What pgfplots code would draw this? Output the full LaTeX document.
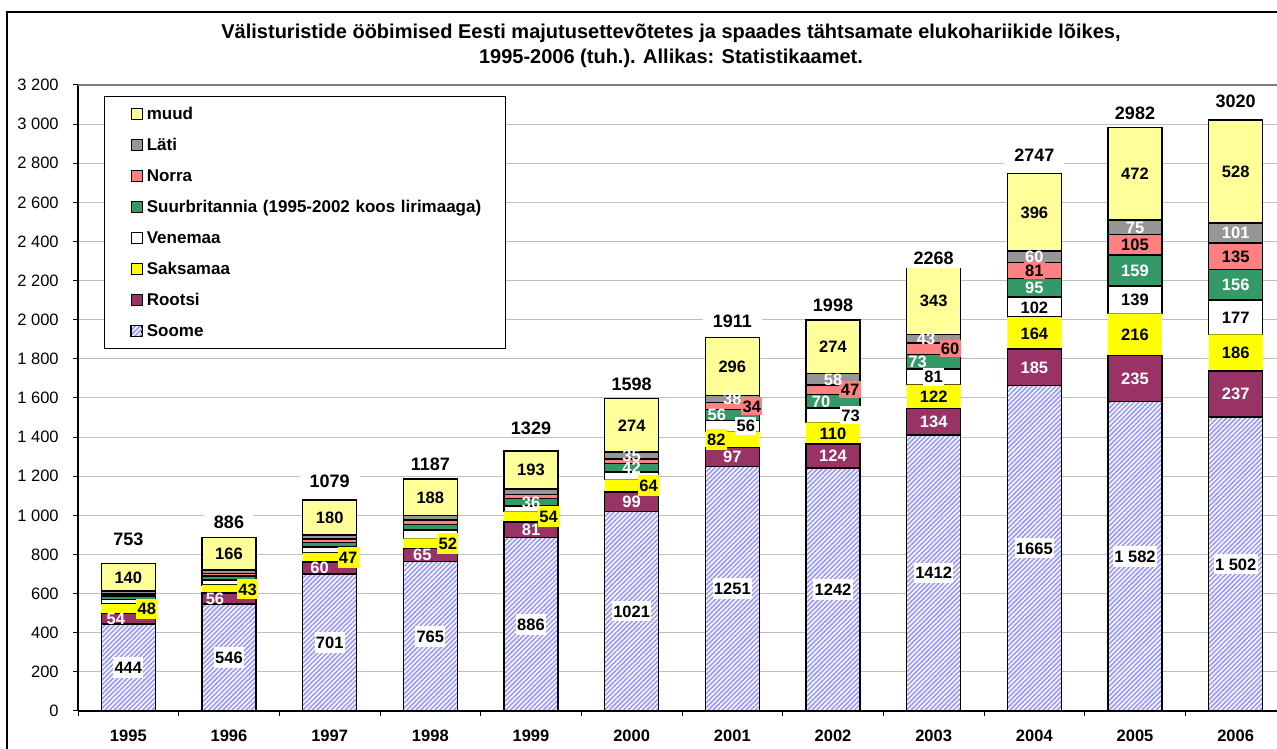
\documentclass[border=0pt]{standalone}
\usepackage{fontspec}
\setmainfont{Liberation Sans}
\usepackage{pgfplots}
\pgfplotsset{compat=1.18}
\usepackage{pgfplotstable}
\usetikzlibrary{patterns.meta}
\definecolor{soome}{HTML}{9999FF}
\definecolor{rootsi}{HTML}{993366}
\definecolor{saksa}{HTML}{FFFF00}
\definecolor{uk}{HTML}{339966}
\definecolor{norra}{HTML}{FF8080}
\definecolor{lati}{HTML}{969696}
\definecolor{muud}{HTML}{FFFF99}

\pgfplotstableread[col sep=comma]{
x,y,t,dx
0,222,444,0
1,273,546,0
2,350.5,701,0
3,382.5,765,0
4,443,886,0
5,510.5,1021,0
6,625.5,1251,0
7,621,1242,0
8,706,1412,0
9,832.5,1665,0
10,791,1 582,0
11,751,1 502,0
}\soomelab
\pgfplotstableread[col sep=comma]{
x,y,t,dx
0,471,54,-7.5
1,574,56,-8.4
2,731,60,-6
3,797.5,65,-4.8
4,926.5,81,0
5,1070.5,99,0
6,1299.5,97,0
7,1304,124,0
8,1479,134,0
9,1757.5,185,0
10,1699.5,235,0
11,1620.5,237,0
}\rootsilab
\pgfplotstableread[col sep=comma]{
x,y,t,dx
0,522,48,11.1
1,623.5,43,11.1
2,784.5,47,11.1
3,856,52,10.5
4,994,54,10.5
5,1152,64,10.2
6,1389,82,-9.6
7,1421,110,0
8,1607,122,0
9,1932,164,0
10,1925,216,0
11,1832,186,0
}\saksalab
\pgfplotstableread[col sep=comma]{
x,y,t,dx
6,1458,56,8.1
7,1512.5,73,10.5
8,1708.5,81,0
9,2065,102,0
10,2102.5,139,0
11,2013.5,177,0
}\venelab
\pgfplotstableread[col sep=comma]{
x,y,t,dx
4,1067,36,0
5,1243,42,0
6,1514,56,-9.3
7,1584,70,-7.2
8,1785.5,73,-9.6
9,2163.5,95,0
10,2251.5,159,0
11,2180,156,0
}\uklab
\pgfplotstableread[col sep=comma]{
x,y,t,dx
6,1559,34,11.7
7,1642.5,47,10.2
8,1852,60,9.9
9,2251.5,81,0
10,2383.5,105,0
11,2325.5,135,0
}\norralab
\pgfplotstableread[col sep=comma]{
x,y,t,dx
5,1306.5,35,0
6,1595,38,0
7,1695,58,0
8,1903.5,43,-4.5
9,2322,60,0
10,2473.5,75,0
11,2443.5,101,0
}\latilab
\pgfplotstableread[col sep=comma]{
x,y,t,dx
0,683,140,0
1,803,166,0
2,989,180,0
3,1093,188,0
4,1232.5,193,0
5,1461,274,0
6,1762,296,0
7,1861,274,0
8,2096.5,343,0
9,2550,396,0
10,2747,472,0
11,2758,528,0
}\muudlab
\pgfplotstableread[col sep=comma]{
x,y,t,dx
0,878,753,0
1,965,886,0
2,1176,1079,0
3,1261,1187,0
4,1449,1329,0
5,1672,1598,0
6,1995,1911,0
7,2074,1998,0
8,2316,2268,0
9,2843,2747,0
10,3055,2982,0
11,3116,3020,0
}\totlab

\pgfplotsset{
  sq legend/.style={legend image code/.code={%
    \path (0pt,0pt);
    \draw[##1, line width=0.7pt] (15.6pt,-3.3pt) rectangle (22.2pt,3.3pt);}},
  bar/.style={draw=black, line width=0.9pt, sq legend},
  lab/.style={only marks, mark=none,
    nodes near coords, point meta=explicit symbolic,
    visualization depends on={\thisrow{dx} \as \dx},
    nodes near coords style={anchor=center, font=\fontsize{9.9}{11}\selectfont\bfseries,
      inner xsep=0.8pt, inner ysep=2.6pt, text height=7.2pt, text depth=0pt, xshift={\dx*1pt}}},
  plain lab/.style={nodes near coords style={inner ysep=0.3pt}},
}

\begin{document}
\begin{tikzpicture}
\useasboundingbox (0,0) rectangle (766.2pt,449.4pt);
\clip (0,0) rectangle (766.2pt,449.4pt);
\begin{axis}[
  at={(46.8pt,22.8pt)}, anchor=south west,
  scale only axis, width=724.8pt, height=375.6pt,
  xmin=-0.5, xmax=11.5, ymin=0, ymax=3200,
  axis x line*=bottom, axis y line*=left,
  axis line style={black, line width=0.8pt},
  ybar stacked, bar width=0.535,
  xtick={-0.5,0.5,...,11.5}, xticklabels={},
  extra x ticks={0,1,...,11},
  extra x tick labels={1995,1996,1997,1998,1999,2000,2001,2002,2003,2004,2005,2006},
  extra x tick style={major tick length=0pt,
    xticklabel style={anchor=center, inner sep=0pt, yshift=-15pt, font=\fontsize{9.9}{11}\selectfont\bfseries}},
  ytick={0,200,...,3200},
  yticklabels={0,200,400,600,800,1 000,1 200,1 400,1 600,1 800,2 000,2 200,2 400,2 600,2 800,3 000,3 200},
  yticklabel style={anchor=east, inner sep=0pt, xshift=-8.4pt, font=\fontsize{9.9}{11}\selectfont},
  tick align=outside, major tick length=3pt,
  tick style={black, line width=0.6pt},
  ymajorgrids, grid style={draw=gray!50, line width=0.6pt},
  reverse legend,
  legend style={at={(0.02152,0.98243)}, anchor=north west, draw=black, line width=0.6pt,
    fill=white, inner xsep=0pt, inner ysep=1.1pt, row sep=0pt, column sep=2.4pt,
    cells={anchor=center},
    font=\fontsize{10.2}{12}\selectfont\bfseries,
    nodes={inner xsep=0pt, inner ysep=0pt, text height=7.3pt, text depth=0pt,
      minimum height=18.6pt, text width=215pt, align=left}},
]
\addplot[bar, preaction={fill=white}, pattern={Lines[angle=45,distance=2pt,line width=1pt]}, pattern color=soome]
  coordinates {(0,444)(1,546)(2,701)(3,765)(4,886)(5,1021)(6,1251)(7,1242)(8,1412)(9,1665)(10,1582)(11,1502)};
\addplot[bar, fill=rootsi]
  coordinates {(0,54)(1,56)(2,60)(3,65)(4,81)(5,99)(6,97)(7,124)(8,134)(9,185)(10,235)(11,237)};
\addplot[bar, fill=saksa, draw=none]
  coordinates {(0,48)(1,43)(2,47)(3,52)(4,54)(5,64)(6,82)(7,110)(8,122)(9,164)(10,216)(11,186)};
\addplot[bar, fill=white]
  coordinates {(0,25)(1,24)(2,30)(3,43)(4,28)(5,38)(6,56)(7,73)(8,81)(9,102)(10,139)(11,177)};
\addplot[bar, fill=uk]
  coordinates {(0,16)(1,20)(2,23)(3,29)(4,36)(5,42)(6,56)(7,70)(8,73)(9,95)(10,159)(11,156)};
\addplot[bar, fill=norra]
  coordinates {(0,12)(1,14)(2,17)(3,22)(4,21)(5,25)(6,34)(7,47)(8,60)(9,81)(10,105)(11,135)};
\addplot[bar, fill=lati]
  coordinates {(0,14)(1,17)(2,21)(3,23)(4,30)(5,35)(6,38)(7,58)(8,43)(9,60)(10,75)(11,101)};
\addplot[bar, fill=muud]
  coordinates {(0,140)(1,166)(2,180)(3,188)(4,193)(5,274)(6,296)(7,274)(8,343)(9,396)(10,472)(11,528)};
\legend{Soome,Rootsi,Saksamaa,Venemaa,Suurbritannia (1995-2002 koos lirimaaga),Norra,Läti,muud}
\end{axis}
\begin{axis}[
  at={(46.8pt,22.8pt)}, anchor=south west,
  scale only axis, width=724.8pt, height=375.6pt,
  xmin=-0.5, xmax=11.5, ymin=0, ymax=3200,
  hide axis, clip=false,
]
\draw[color=gray, line width=0.7pt] (rel axis cs:0,1) -- (rel axis cs:1,1);
\addplot[lab, nodes near coords style={fill=white}] table[x=x,y=y,meta=t]{\soomelab};
\addplot[lab, plain lab, nodes near coords style={text=white}] table[x=x,y=y,meta=t]{\rootsilab};
\addplot[lab, nodes near coords style={fill=saksa}] table[x=x,y=y,meta=t]{\saksalab};
\addplot[lab, nodes near coords style={fill=white, inner ysep=1.8pt}] table[x=x,y=y,meta=t]{\venelab};
\addplot[lab, plain lab, nodes near coords style={text=white}] table[x=x,y=y,meta=t]{\uklab};
\addplot[lab, nodes near coords style={fill=norra, inner ysep=1.6pt}] table[x=x,y=y,meta=t]{\norralab};
\addplot[lab, plain lab, nodes near coords style={text=white}] table[x=x,y=y,meta=t]{\latilab};
\addplot[lab, plain lab] table[x=x,y=y,meta=t]{\muudlab};
\addplot[lab, nodes near coords style={fill=white, inner xsep=6pt, inner ysep=2pt,
   text height=7.8pt, font=\fontsize{10.8}{12}\selectfont\bfseries}] table[x=x,y=y,meta=t]{\totlab};
\end{axis}
\node[font=\fontsize{12}{14}\selectfont\bfseries] at (402.6pt,429.6pt)
  {Välisturistide ööbimised Eesti majutusettevõtetes ja spaades tähtsamate elukohariikide lõikes,};
\node[font=\fontsize{12}{14}\selectfont\bfseries] at (402.6pt,414.6pt)
  {1995-2006 (tuh.). Allikas: Statistikaamet.};
\draw[line width=0.9pt] (4.2pt,-5pt) -- (4.2pt,442.2pt) -- (780pt,442.2pt);
\end{tikzpicture}
\end{document}
